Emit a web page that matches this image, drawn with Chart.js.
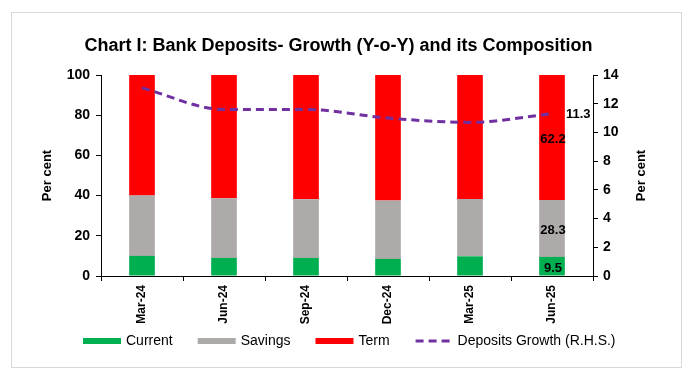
<!DOCTYPE html>
<html>
<head>
<meta charset="utf-8">
<script src="https://cdn.jsdelivr.net/npm/chart.js"></script>
<style>
  html, body { margin: 0; padding: 0; background: #fff; }
  #wrap { width: 697px; height: 369px; }
</style>
</head>
<body>
<div id="wrap"><canvas id="graficoDepositos" width="697" height="369"></canvas></div>
<script>
// Dados (percentuais)
const categories = ['Mar-24', 'Jun-24', 'Sep-24', 'Dec-24', 'Mar-25', 'Jun-25'];
const current = [10.0, 9.0, 9.0, 8.5, 9.8, 9.5];
const savings = [30.0, 29.7, 29.2, 29.1, 28.5, 28.3];
const term = [60.0, 61.3, 61.8, 62.4, 61.7, 62.2];
const depositsGrowth = [13.1, 11.6, 11.6, 11.0, 10.7, 11.3];
const leftTicks = [0, 20, 40, 60, 80, 100];
const rightTicks = [0, 2, 4, 6, 8, 10, 12, 14];

const FONT = "'Liberation Sans', Arial, sans-serif";
const colors = {
  current: '#00B050',
  savings: '#AEAAAA',
  term: '#FF0000',
  growth: '#7030A0',
  axis: '#000000',
  frame: '#D9D9D9'
};

// ===== moldura cinza em volta do gráfico
const framePlugin = {
  id: 'framePlugin',
  beforeDraw(chart) {
    const { ctx } = chart;
    ctx.save();
    ctx.fillStyle = '#fff';
    ctx.fillRect(0, 0, chart.width, chart.height);
    ctx.strokeStyle = colors.frame;
    ctx.lineWidth = 1;
    ctx.strokeRect(11.5, 12.5, 670, 355);
    ctx.restore();
  }
};

// ===== títulos dos eixos (os dois lidos de baixo para cima) + legenda
const axisTitlesAndLegend = {
  id: 'axisTitlesAndLegend',
  afterDraw(chart) {
    const { ctx, chartArea } = chart;
    const midY = (chartArea.top + chartArea.bottom) / 2;
    ctx.save();
    ctx.fillStyle = '#000';
    ctx.font = 'bold 13px ' + FONT;
    ctx.textAlign = 'center';
    ctx.textBaseline = 'middle';
    [47, 641].forEach(x => {
      ctx.save();
      ctx.translate(x, midY);
      ctx.rotate(-Math.PI / 2);
      ctx.fillText('Per cent', 0, 0);
      ctx.restore();
    });

    // legenda
    ctx.font = '14px ' + FONT;
    ctx.textAlign = 'left';
    const boxW = 38, boxH = 6, gapText = 5, gapItem = 25, y = 341;
    const items = chart.data.datasets.map(ds => ({
      text: ds.label, color: ds.borderColor || ds.backgroundColor, dashed: ds.type === 'line'
    }));
    const widths = items.map(it => boxW + gapText + ctx.measureText(it.text).width);
    const total = widths.reduce((a, b) => a + b, 0) + gapItem * (items.length - 1);
    let x = Math.round(349.5 - total / 2);
    items.forEach((it, i) => {
      if (it.dashed) {
        ctx.save();
        ctx.strokeStyle = it.color;
        ctx.lineWidth = 3;
        ctx.setLineDash([8, 5]);
        ctx.beginPath();
        ctx.moveTo(x + 1, y);
        ctx.lineTo(x + boxW, y);
        ctx.stroke();
        ctx.restore();
      } else {
        ctx.fillStyle = it.color;
        ctx.fillRect(x, y - boxH / 2, boxW, boxH);
      }
      ctx.fillStyle = '#000';
      ctx.fillText(it.text, x + boxW + gapText, y);
      x += widths[i] + gapItem;
    });
    ctx.restore();
  }
};

// ===== rótulos de valor só no último período
const valueLabels = {
  id: 'valueLabels',
  afterDatasetsDraw(chart) {
    const { ctx } = chart;
    const idx = categories.length - 1;
    ctx.save();
    ctx.font = 'bold 13px ' + FONT;
    ctx.fillStyle = '#000';
    ctx.textBaseline = 'middle';
    chart.data.datasets.forEach((ds, d) => {
      const el = chart.getDatasetMeta(d).data[idx];
      if (!el) return;
      const txt = ds.data[idx].toFixed(1);
      if (ds.type === 'line') {
        ctx.textAlign = 'left';
        ctx.fillText(txt, el.x + 14, el.y + 1);
      } else {
        ctx.textAlign = 'center';
        ctx.fillText(txt, el.x + 1, (el.y + el.base) / 2 + 2);
      }
    });
    ctx.restore();
  }
};

const barCommon = {
  type: 'bar',
  yAxisID: 'y',
  barPercentage: 0.313,
  categoryPercentage: 1,
  borderWidth: 0,
  order: 2
};

new Chart(document.getElementById('graficoDepositos'), {
  data: {
    labels: categories,
    datasets: [
      { ...barCommon, label: 'Current', data: current, backgroundColor: colors.current },
      { ...barCommon, label: 'Savings', data: savings, backgroundColor: colors.savings },
      { ...barCommon, label: 'Term', data: term, backgroundColor: colors.term },
      {
        type: 'line',
        label: 'Deposits Growth (R.H.S.)',
        data: depositsGrowth,
        yAxisID: 'y2',
        borderColor: colors.growth,
        borderWidth: 3,
        borderDash: [8, 5],
        pointRadius: 0,
        fill: false,
        cubicInterpolationMode: 'monotone',
        order: 1
      }
    ]
  },
  options: {
    responsive: false,
    animation: false,
    // padding assimétrico para o título ficar centrado em x≈338, como no original
    layout: { padding: { left: 10, right: 30, top: 0, bottom: 44 } },
    plugins: {
      legend: { display: false },
      tooltip: { enabled: false },
      title: {
        display: true,
        text: 'Chart I: Bank Deposits- Growth (Y-o-Y) and its Composition',
        color: '#000',
        font: { family: FONT, size: 18, weight: 'bold' },
        padding: { top: 35, bottom: 18.4 }
      }
    },
    scales: {
      x: {
        stacked: true,
        afterFit: s => { s.height = 49; },
        grid: { display: true, drawOnChartArea: false, drawTicks: true, tickLength: 5, color: colors.axis, offset: true },
        border: { display: true, color: colors.axis, width: 1 },
        ticks: {
          color: '#000', maxRotation: 90, minRotation: 90, padding: 4,
          font: { family: FONT, size: 12, weight: 'bold' }
        }
      },
      y: {
        stacked: true,
        position: 'left',
        min: 0, max: 100,
        afterFit: s => { s.width = 91; },
        afterBuildTicks: s => { s.ticks = leftTicks.map(v => ({ value: v })); },
        grid: { display: true, drawOnChartArea: false, drawTicks: true, tickLength: 5, color: colors.axis },
        border: { display: true, color: colors.axis, width: 1 },
        ticks: { color: '#000', padding: 6, font: { family: FONT, size: 14, weight: 'bold' } }
      },
      y2: {
        stacked: false,
        position: 'right',
        min: 0, max: 14,
        afterFit: s => { s.width = 74; },
        afterBuildTicks: s => { s.ticks = rightTicks.map(v => ({ value: v })); },
        grid: { display: true, drawOnChartArea: false, drawTicks: true, tickLength: 5, color: colors.axis },
        border: { display: true, color: colors.axis, width: 1 },
        ticks: { color: '#000', padding: 5, font: { family: FONT, size: 14, weight: 'bold' } }
      }
    }
  },
  plugins: [framePlugin, valueLabels, axisTitlesAndLegend]
});
</script>
</body>
</html>
